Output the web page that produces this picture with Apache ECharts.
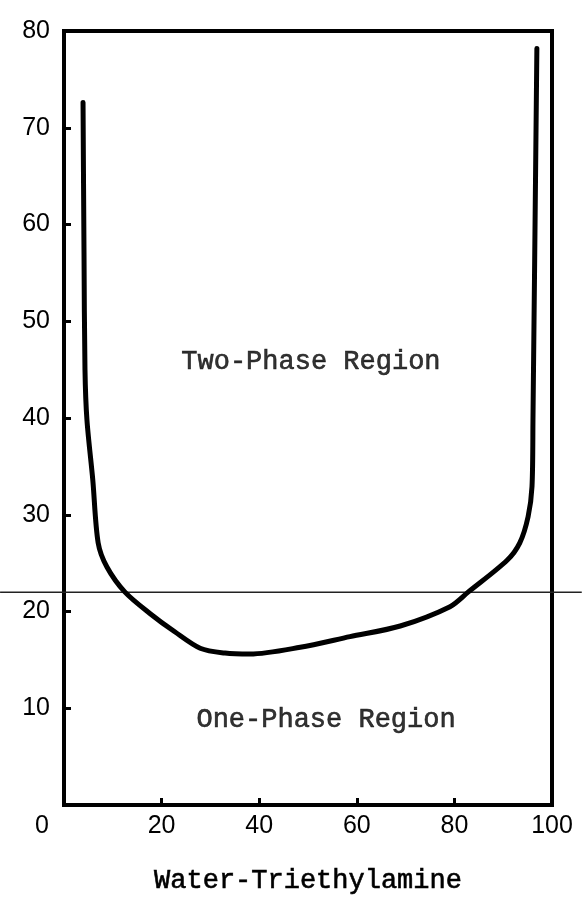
<!DOCTYPE html>
<html>
<head>
<meta charset="utf-8">
<script src="https://cdn.jsdelivr.net/npm/echarts@6/dist/echarts.min.js"></script>
<style>
html,body{margin:0;padding:0;background:#fff;}
#chart{width:582px;height:900px;}
</style>
</head>
<body>
<div id="chart"></div>
<script>
// Coexistence curve (composition, temperature)
const curveX = [3.9, 4.1, 4.3, 4.7, 5.9, 7.0, 8.8, 12.5, 17.6, 22.7, 27.9, 33.0, 38.1, 48.4, 58.6, 68.9, 79.1, 82.8, 90.8, 93.4, 95.1, 95.9, 96.1, 96.9];
const curveY = [72.6, 57.0, 45.0, 39.8, 33.6, 27.1, 24.6, 22.0, 19.8, 17.9, 16.2, 15.7, 15.6, 16.3, 17.4, 18.5, 20.5, 22.0, 25.3, 27.1, 29.8, 32.9, 39.8, 78.2];
// horizontal reference line spanning the page
const refLineX = [-13.1, 106.1];
const refLineY = [22.0, 22.0];
const xTicks = [0, 20, 40, 60, 80, 100];
const yTicks = [0, 10, 20, 30, 40, 50, 60, 70, 80];
const regionLabels = ['Two-Phase Region', 'One-Phase Region'];
const regionX = [50.6, 53.7];
const regionY = [45.8, 8.8];
const xName = 'Water-Triethylamine';

const chart = echarts.init(document.getElementById('chart'));
const mono = '"Liberation Mono", "Courier New", monospace';
const sans = '"Liberation Sans", Arial, sans-serif';
const monoStyle = {color: '#000', fontSize: 27, fontFamily: mono, textBorderColor: '#000', textBorderWidth: 0.6};

chart.setOption({
  backgroundColor: '#fff',
  animation: false,
  grid: {left: 64, right: 30, top: 31, bottom: 95, show: true, borderColor: '#000', borderWidth: 4, backgroundColor: 'transparent'},
  xAxis: {
    type: 'value', min: xTicks[0], max: xTicks[xTicks.length - 1], interval: 20,
    axisLine: {show: true, lineStyle: {color: '#000', width: 4}},
    axisTick: {show: true, inside: true, length: 7, lineStyle: {color: '#000', width: 3}},
    splitLine: {show: false},
    axisLabel: {
      color: '#000', fontSize: 25, fontFamily: sans, margin: 9,
      formatter: v => v === 0 ? '{z|' + v + '}' : String(v),
      rich: {z: {fontSize: 25, fontFamily: sans, color: '#000', padding: [0, 44, 0, 0]}}
    },
    name: xName, nameLocation: 'middle', nameGap: 62,
    nameTextStyle: monoStyle
  },
  yAxis: {
    type: 'value', min: yTicks[0], max: yTicks[yTicks.length - 1], interval: 10,
    axisLine: {show: true, lineStyle: {color: '#000', width: 4}},
    axisTick: {show: true, inside: true, length: 7, lineStyle: {color: '#000', width: 3}},
    splitLine: {show: false},
    axisLabel: {color: '#000', fontSize: 25, fontFamily: sans, margin: 14,
      formatter: v => v === 0 ? '' : String(v)}
  },
  series: [
    {
      type: 'line', data: curveX.map((x, i) => [x, curveY[i]]),
      symbol: 'none', smooth: 0.3,
      lineStyle: {color: '#000', width: 5, cap: 'round', join: 'round'}
    },
    {
      type: 'scatter', symbolSize: 0, silent: true,
      data: regionX.map((x, i) => ({value: [x, regionY[i]], name: regionLabels[i]})),
      label: Object.assign({show: true, position: 'inside', formatter: p => p.name}, monoStyle)
    }
  ]
});

// Reference line extending across the full page, positioned through the axis scales
const p0 = chart.convertToPixel({gridIndex: 0}, [refLineX[0], refLineY[0]]);
const p1 = chart.convertToPixel({gridIndex: 0}, [refLineX[1], refLineY[1]]);
chart.setOption({
  graphic: [{
    type: 'line', silent: true, z: 1,
    shape: {x1: p0[0], y1: p0[1], x2: p1[0], y2: p1[1]},
    style: {stroke: '#222', lineWidth: 1.5}
  }]
});
</script>
</body>
</html>
